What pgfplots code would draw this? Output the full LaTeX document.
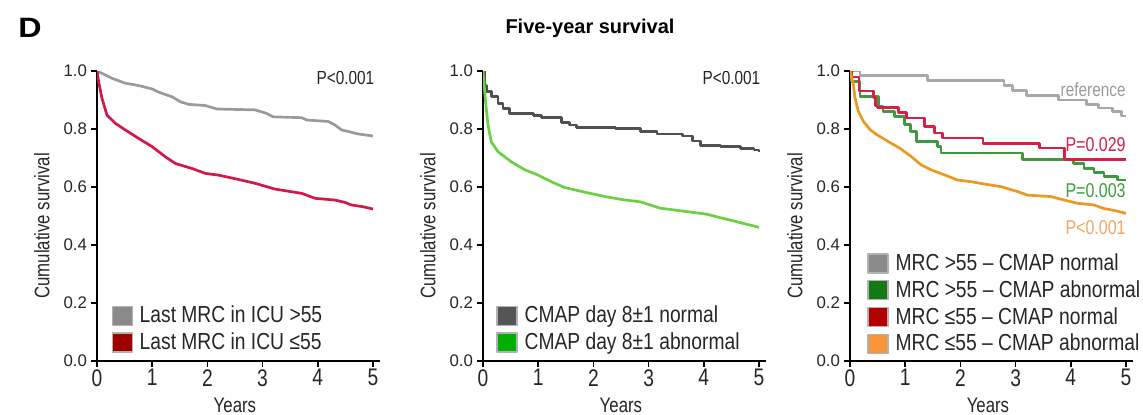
\documentclass[border=0pt]{standalone}
\usepackage{fontspec}
\setmainfont{Liberation Sans}
\newfontfamily\narrowfont[FakeStretch=0.8]{Liberation Sans}
\newfontfamily\legfont[FakeStretch=0.83]{Liberation Sans}
\newfontfamily\widefont[FakeStretch=1.15]{Liberation Sans}
\usepackage{pgfplots}
\pgfplotsset{compat=1.18}

% line colours
\definecolor{aGray}{HTML}{9A9A9A}
\definecolor{aRed}{HTML}{D4174A}
\definecolor{bDark}{HTML}{505050}
\definecolor{bGreen}{HTML}{6CD044}
\definecolor{cGray}{HTML}{A8A8A8}
\definecolor{cGreen}{HTML}{3F9A3F}
\definecolor{cRed}{HTML}{D91E49}
\definecolor{cOrange}{HTML}{EA9A20}
% legend swatches
\definecolor{sGray}{HTML}{8A8A8A}
\definecolor{sRed}{HTML}{9E0000}
\definecolor{sDark}{HTML}{555555}
\definecolor{sGreen}{HTML}{00B000}
\definecolor{sGreenD}{HTML}{137A13}
\definecolor{sRedC}{HTML}{B30000}
\definecolor{sOrange}{HTML}{F8953A}
% text labels
\definecolor{tRef}{HTML}{9A9A9A}
\definecolor{tRed}{HTML}{D0204A}
\definecolor{tGreen}{HTML}{3AA03A}
\definecolor{tOrange}{HTML}{F6A564}

\tikzset{plab/.style={anchor=east, inner sep=0pt, font=\narrowfont\fontsize{#1}{11}\selectfont}}

\pgfplotsset{
  kmaxis/.style={
    scale only axis, width=141.3pt, height=145pt,
    xmin=0, xmax=5.12, ymin=0, ymax=1,
    axis lines=left, axis line style={-, line width=1pt, black},
    xtick={0,1,2,3,4,5}, ytick={0,0.2,0.4,0.6,0.8,1},
    tick align=outside, major tick length=3pt,
    tick style={line width=0.8pt, black},
    /pgf/number format/assume math mode=true,
    yticklabel style={/pgf/number format/.cd, fixed, fixed zerofill, precision=1,
      /tikz/.cd, font=\fontsize{8.4}{9}\selectfont, text=black!85, xshift=1.5pt},
    xticklabel style={font=\narrowfont\fontsize{12}{13}\selectfont, text=black!85, inner sep=1pt},
    ylabel={Cumulative survival}, xlabel={Years},
    ylabel style={at={(axis description cs:-0.195,0.466)}, anchor=center,
      font=\narrowfont\fontsize{10.5}{12}\selectfont, text=black!85},
    xlabel style={at={(axis description cs:0.488,-0.152)}, anchor=center,
      font=\narrowfont\fontsize{10.5}{12}\selectfont, text=black!85},
    legend cell align=left,
    legend style={draw=none, fill=none, anchor=north west, inner sep=0pt,
      row sep=2.5pt, column sep=3pt,
      font=\legfont\fontsize{11.6}{12}\selectfont,
      nodes={inner sep=0.5pt, text=black!85}},
  },
  swatch/.style={legend image code/.code={
    \draw[fill=#1, draw=black!30, line width=0.6pt] (0pt,-4.75pt) rectangle (10pt,4.75pt);}},
  curve/.style={line width=1.35pt, line join=round},
}

\begin{document}
\begin{tikzpicture}
\path[use as bounding box] (0,0) rectangle (571.5pt,207pt);
\node[anchor=west, inner sep=0pt, font=\widefont\bfseries\fontsize{14}{14}\selectfont] at (9pt,193pt) {D};
\node[font=\bfseries\fontsize{10}{12}\selectfont] at (295pt,193pt) {Five-year survival};

% ---------- panel 1: last MRC in ICU
\begin{axis}[kmaxis, at={(48.5pt,26.5pt)}, anchor=south west,
  legend style={at={(axis description cs:0.05,0.195)}}]
\addplot[curve, aGray, swatch=sGray] table {
0 1.0
0.09 0.992
0.27 0.975
0.51 0.958
0.75 0.950
1.00 0.938
1.12 0.927
1.36 0.911
1.51 0.894
1.66 0.885
1.96 0.881
2.17 0.869
2.86 0.866
3.07 0.854
3.19 0.842
3.71 0.839
3.80 0.831
4.19 0.826
4.31 0.814
4.43 0.797
4.58 0.790
4.73 0.783
5.00 0.776
};
\addlegendentry{Last MRC in ICU >55}
\addplot[curve, aRed, swatch=sRed] table {
0 1.0
0.03 0.963
0.09 0.906
0.18 0.848
0.33 0.820
0.51 0.797
0.75 0.768
1.00 0.739
1.24 0.704
1.42 0.681
1.72 0.664
1.96 0.647
2.20 0.641
2.54 0.627
2.86 0.613
3.22 0.593
3.71 0.578
3.95 0.561
4.31 0.555
4.49 0.547
4.61 0.538
4.82 0.532
5.00 0.524
};
\addlegendentry{Last MRC in ICU ≤55}
\node[plab=9.6, text=black!85] at (axis cs:5.03,0.976) {P<0.001};
\end{axis}

% ---------- panel 2: CMAP day 8
\begin{axis}[kmaxis, at={(241.5pt,26.5pt)}, anchor=south west,
  legend style={at={(axis description cs:0.046,0.195)}}]
\addplot[curve, const plot, bDark, swatch=sDark] table {
0 1.0
0.03 0.950
0.06 0.929
0.15 0.911
0.27 0.889
0.36 0.871
0.48 0.854
0.91 0.846
1.06 0.840
1.42 0.823
1.57 0.814
1.69 0.806
2.40 0.802
2.85 0.791
3.15 0.783
3.61 0.776
3.79 0.759
3.94 0.742
4.30 0.739
4.66 0.733
4.91 0.728
5.00 0.722
};
\addlegendentry{CMAP day 8±1 normal}
\addplot[curve, bGreen, swatch=sGreen] table {
0 1.0
0.04 0.906
0.09 0.814
0.15 0.756
0.27 0.722
0.51 0.687
0.76 0.659
1.00 0.641
1.24 0.618
1.48 0.598
1.85 0.582
2.21 0.567
2.54 0.556
2.85 0.549
3.21 0.527
3.70 0.515
4.06 0.506
4.30 0.494
4.54 0.483
4.79 0.471
5.00 0.461
};
\addlegendentry{CMAP day 8±1 abnormal}
\node[plab=9.6, text=black!85] at (axis cs:5.03,0.976) {P<0.001};
\end{axis}

% ---------- panel 3: combined groups
\begin{axis}[kmaxis, at={(425pt,26.5pt)}, anchor=south west,
  legend style={at={(axis description cs:0.06,0.375)}}]
\addplot[curve, const plot, cGray, swatch=sGray] table {
0 1.0
0.18 0.985
1.40 0.967
2.79 0.950
2.95 0.933
3.20 0.915
3.78 0.900
4.29 0.885
4.50 0.872
4.75 0.860
4.92 0.845
5.00 0.845
};
\addlegendentry{MRC >55 – CMAP normal}
\addplot[curve, const plot, cGreen, swatch=sGreenD] table {
0 1.0
0.03 0.965
0.18 0.913
0.51 0.879
0.60 0.861
0.81 0.844
0.99 0.815
1.10 0.792
1.20 0.757
1.59 0.740
1.65 0.717
3.13 0.694
4.05 0.682
4.24 0.665
4.42 0.650
4.60 0.636
4.84 0.624
5.00 0.624
};
\addlegendentry{MRC >55 – CMAP abnormal}
\addplot[curve, const plot, cRed, swatch=sRedC] table {
0 1.0
0.03 0.979
0.16 0.931
0.42 0.908
0.46 0.879
0.50 0.873
0.88 0.856
1.02 0.838
1.35 0.809
1.53 0.786
1.68 0.769
2.41 0.750
3.43 0.734
3.88 0.695
5.00 0.695
};
\addlegendentry{MRC ≤55 – CMAP normal}
\addplot[curve, cOrange, swatch=sOrange] table {
0 1.0
0.06 0.954
0.09 0.908
0.15 0.861
0.24 0.827
0.36 0.798
0.48 0.781
0.69 0.757
0.90 0.734
1.11 0.705
1.29 0.676
1.47 0.659
1.71 0.642
1.95 0.624
2.20 0.618
2.44 0.610
2.74 0.601
3.04 0.584
3.22 0.572
3.64 0.567
3.88 0.555
4.12 0.544
4.42 0.538
4.60 0.526
4.84 0.517
5.00 0.509
};
\addlegendentry{MRC ≤55 – CMAP abnormal}
\node[plab=9.6, text=tRef] at (axis cs:5.0,0.937) {reference};
\node[plab=10, text=tRed] at (axis cs:5.0,0.745) {P=0.029};
\node[plab=10, text=tGreen] at (axis cs:5.0,0.588) {P=0.003};
\node[plab=10, text=tOrange] at (axis cs:5.0,0.46) {P<0.001};
\end{axis}
\end{tikzpicture}
\end{document}
